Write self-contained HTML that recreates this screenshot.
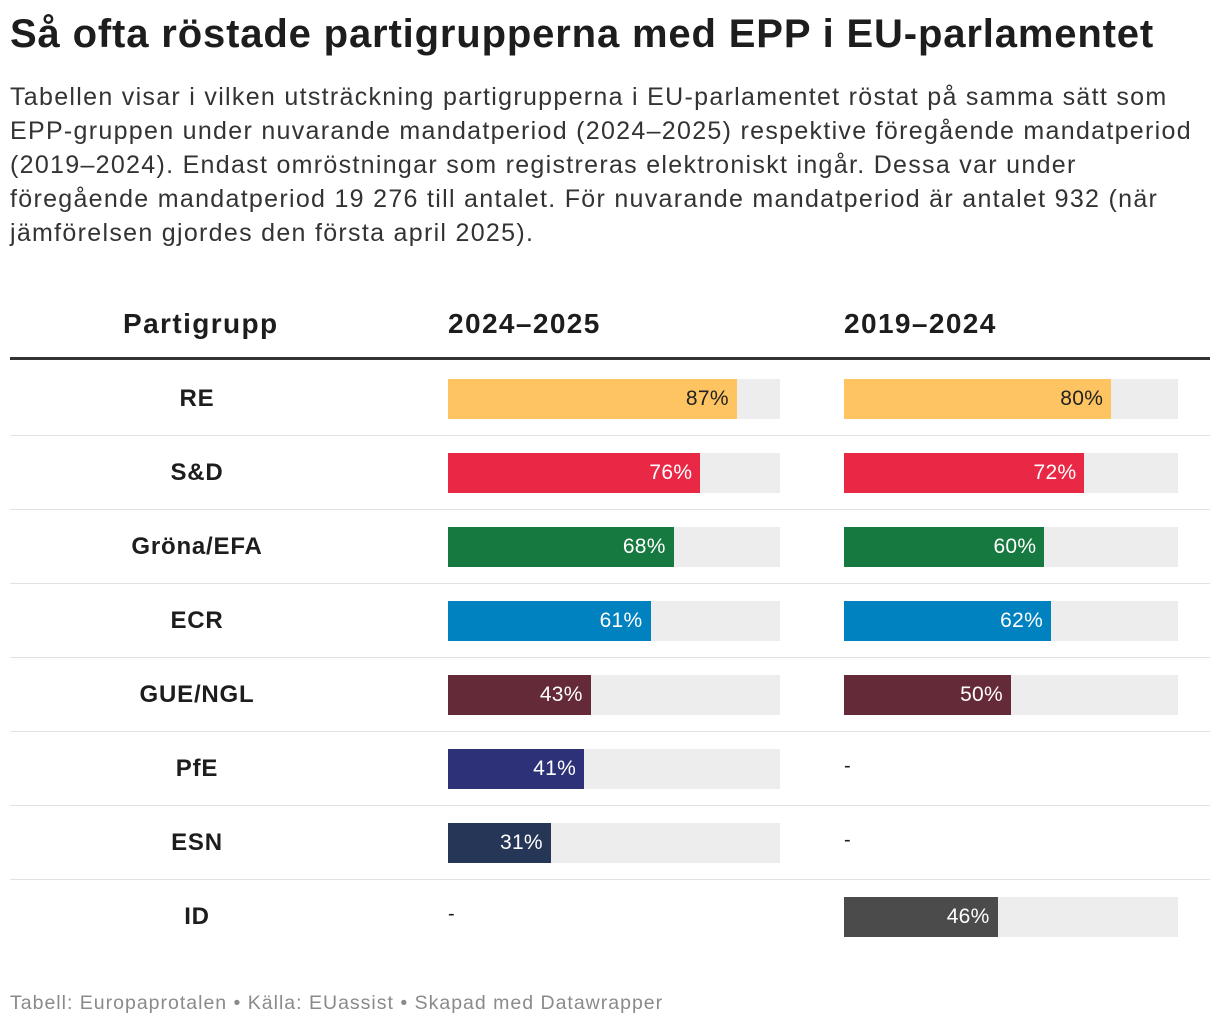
<!DOCTYPE html>
<html><head><meta charset="utf-8"><style>
body{margin:0;width:1220px;height:1028px;background:#fff;font-family:"Liberation Sans",Roboto,sans-serif;color:#1d1d1d;position:relative;overflow:hidden}
h1{position:absolute;left:10px;top:12px;margin:0;font-size:40px;font-weight:bold;letter-spacing:0.85px;white-space:nowrap}
.sub{position:absolute;left:10px;top:80px;width:1215px;font-size:25px;line-height:34px;color:#333;letter-spacing:1.3px;white-space:nowrap}
.hdr{position:absolute;top:308px;font-size:28px;font-weight:bold;letter-spacing:1.4px}
.thick{position:absolute;left:10px;top:357px;width:1200px;height:3px;background:#333}
.row{position:absolute;left:10px;width:1200px;height:74px;border-bottom:1px solid #e2e2e2}
.lbl{position:absolute;left:0;width:374px;text-align:center;top:24px;font-size:24px;font-weight:bold;letter-spacing:0.8px}
.track{position:absolute;top:18px;height:40px;background:#ededed}
.bar{position:absolute;left:0;top:0;height:40px}
.val{position:absolute;right:8px;top:8px;font-size:21px;color:#fff;letter-spacing:0.3px}
.dash{position:absolute;top:24px;font-size:20px}
.foot{position:absolute;left:10px;top:992px;font-size:19.5px;color:#8a8a8a;letter-spacing:1px;white-space:nowrap}
</style></head><body>
<h1>Så ofta röstade partigrupperna med EPP i EU-parlamentet</h1>
<div class="sub">Tabellen visar i vilken utsträckning partigrupperna i EU-parlamentet röstat på samma sätt som<br>EPP-gruppen under nuvarande mandatperiod (2024–2025) respektive föregående mandatperiod<br>(2019–2024). Endast omröstningar som registreras elektroniskt ingår. Dessa var under<br>föregående mandatperiod 19 276 till antalet. För nuvarande mandatperiod är antalet 932 (när<br>jämförelsen gjordes den första april 2025).</div>
<div class="hdr" style="left:123px">Partigrupp</div>
<div class="hdr" style="left:448px">2024–2025</div>
<div class="hdr" style="left:844px">2019–2024</div>
<div class="thick"></div>
<div id="rows"></div>
<div class="foot">Tabell: Europaprotalen • Källa: EUassist • Skapad med Datawrapper</div>
<script>
const parties=["RE","S&D","Gröna/EFA","ECR","GUE/NGL","PfE","ESN","ID"];
const values2024=[87,76,68,61,43,41,31,null];
const values2019=[80,72,60,62,50,null,null,46];
const colors=["#fec461","#e92846","#16793f","#0081c0","#652a37","#2d3178","#263656","#4b4b4b"];
const textColors=["#222","#fff","#fff","#fff","#fff","#fff","#fff","#fff"];
const rows=document.getElementById('rows');
function cell(row,x,w,v,i,name){
  if(v==null){const d=document.createElement('div');d.className='dash';d.style.left=x+'px';d.textContent='-';
    
    
    row.appendChild(d);return;}
  const t=document.createElement('div');t.className='track';t.style.left=x+'px';t.style.width=w+'px';
  
  
  const b=document.createElement('div');b.className='bar';b.style.width=(w*v/100)+'px';b.style.background=colors[i];
  
  
  const s=document.createElement('span');s.className='val';s.style.color=textColors[i];s.textContent=v+'%';
  
  
  b.appendChild(s);t.appendChild(b);row.appendChild(t);
}
parties.forEach((p,i)=>{
  const r=document.createElement('div');r.className='row';r.style.top=(361+i*74)+'px';
  if(i==parties.length-1)r.style.borderBottom='none';
  
  
  const l=document.createElement('div');l.className='lbl';l.textContent=p;
  
  
  r.appendChild(l);
  cell(r,438,332,values2024[i],i,'col-2024-2025');
  cell(r,834,334,values2019[i],i,'col-2019-2024');
  rows.appendChild(r);
});
</script>
</body></html>
